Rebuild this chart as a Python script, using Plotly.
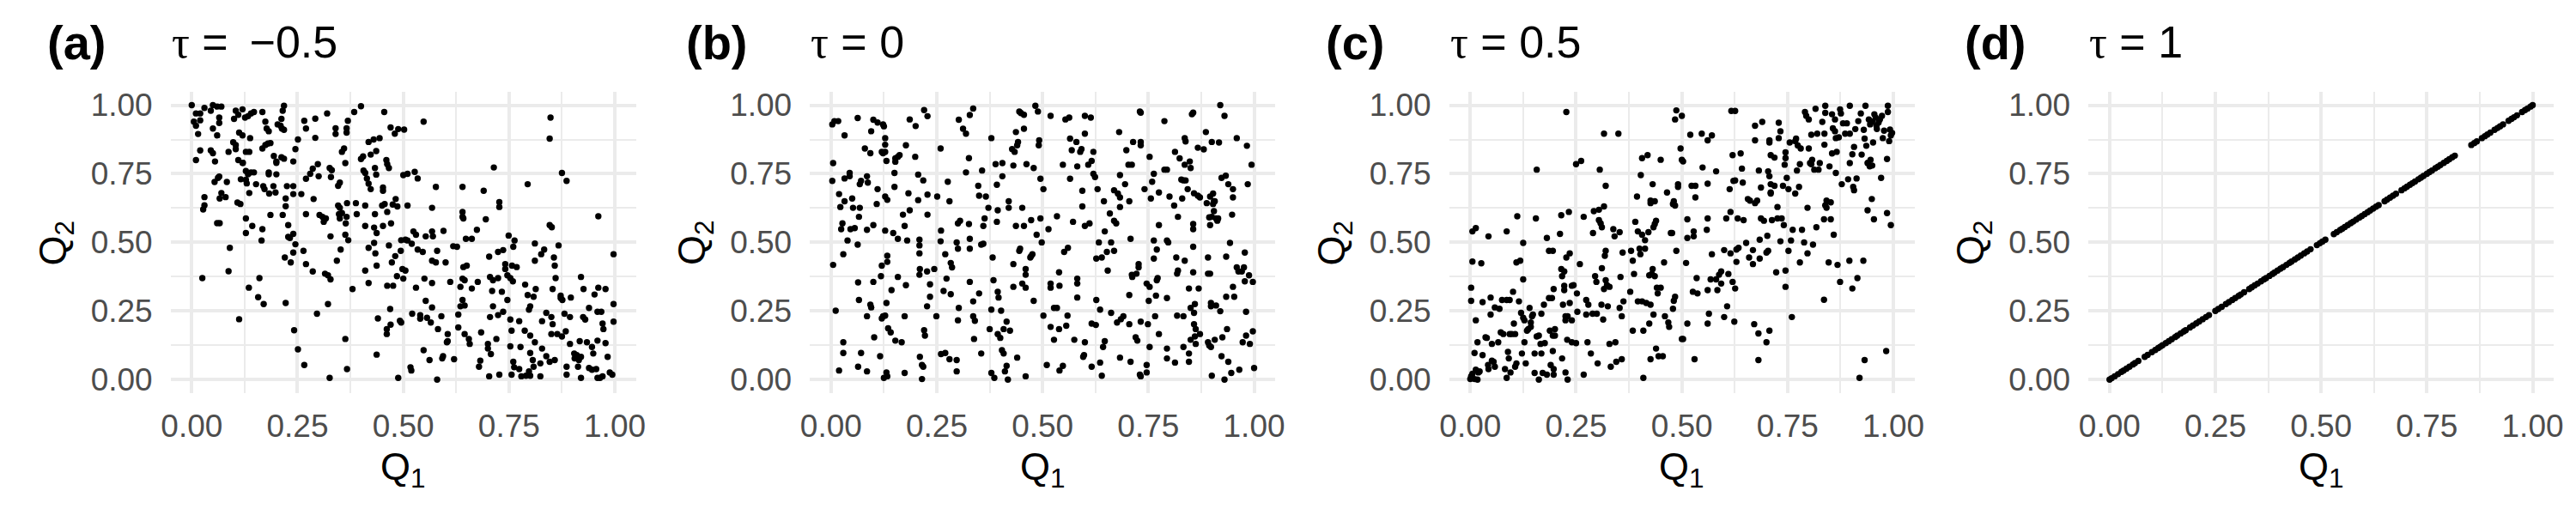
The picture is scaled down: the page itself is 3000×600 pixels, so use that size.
import plotly.graph_objects as go

FONT = "Liberation Sans, Arial, Helvetica, sans-serif"

panel_tags = ["(a)", "(b)", "(c)", "(d)"]
panel_tau = ["\u2009\u22120.5", "0", "0.5", "1"]
tick_vals = [0, 0.25, 0.5, 0.75, 1.0]
tick_text = ["0.00", "0.25", "0.50", "0.75", "1.00"]
minor_vals = [0.125, 0.375, 0.625, 0.875]

# panel (a): tau = -0.5  (Q1, Q2) pairs
a_pts = [
(0.00,1.00),(0.01,0.97),(0.02,0.97),(0.005,0.94),(0.01,0.925),(0.02,0.945),(0.015,0.895),(0.01,0.80),(0.02,0.835),(0.03,0.99),
(0.045,0.98),(0.05,1.0),(0.06,0.995),(0.07,0.995),(0.065,0.955),(0.05,0.915),(0.06,0.89),(0.065,0.935),(0.045,0.835),(0.05,0.825),
(0.055,0.795),(0.065,0.74),(0.062,0.735),(0.054,0.72),(0.07,0.68),(0.066,0.66),(0.08,0.665),(0.083,0.72),(0.03,0.665),(0.03,0.635),
(0.027,0.62),(0.06,0.57),(0.066,0.57),(0.025,0.37),(0.09,0.48),(0.087,0.395),(0.087,0.83),(0.098,0.865),(0.104,0.855),(0.10,0.95),
(0.104,0.98),(0.11,0.965),(0.112,0.90),(0.104,0.84),(0.11,0.80),(0.121,0.79),(0.116,0.73),(0.108,0.645),(0.115,0.64),(0.112,0.22),
(0.12,0.985),(0.12,0.79),(0.12,0.89),
(0.126,0.955),(0.133,0.96),(0.14,0.97),(0.147,0.975),(0.128,0.83),(0.136,0.83),(0.138,0.88),(0.128,0.76),(0.133,0.748),(0.14,0.755),
(0.147,0.755),(0.128,0.728),(0.136,0.68),(0.13,0.715),(0.167,0.975),(0.174,0.94),(0.177,0.915),(0.182,0.905),(0.174,0.855),(0.18,0.86),
(0.186,0.862),(0.167,0.842),(0.182,0.755),(0.194,0.815),(0.2,0.795),(0.2,0.79),(0.203,0.93),(0.21,0.925),(0.212,0.95),(0.215,0.98),
(0.218,0.998),(0.213,0.915),(0.218,0.91),(0.212,0.81),(0.218,0.805),(0.152,0.712),(0.169,0.705),(0.172,0.694),(0.183,0.678),(0.193,0.705),
(0.198,0.682),(0.182,0.748),(0.2,0.748),(0.128,0.587),(0.128,0.534),(0.143,0.56),(0.167,0.548),(0.165,0.507),(0.186,0.6),(0.215,0.60),
(0.222,0.632),(0.222,0.66),(0.225,0.705),(0.24,0.705),(0.24,0.676),(0.24,0.795),(0.245,0.84),(0.228,0.563),(0.228,0.52),(0.232,0.516),
(0.24,0.531),(0.245,0.493),(0.22,0.445),(0.234,0.427),(0.24,0.463),(0.135,0.335),(0.16,0.37),(0.157,0.30),(0.17,0.275),(0.222,0.279),
(0.242,0.18),
(0.251,0.875),(0.266,0.943),(0.27,0.915),(0.292,0.951),(0.292,0.881),(0.32,0.97),(0.34,0.916),(0.34,0.895),(0.366,0.916),(0.366,0.9),
(0.369,0.943),(0.384,0.975),(0.4,0.996),(0.259,0.676),(0.27,0.732),(0.28,0.75),(0.286,0.769),(0.298,0.785),(0.3,0.741),(0.288,0.658),
(0.27,0.603),(0.302,0.6),(0.309,0.593),(0.317,0.587),(0.312,0.575),(0.326,0.771),(0.331,0.763),(0.329,0.738),(0.346,0.706),(0.35,0.718),
(0.363,0.789),(0.355,0.83),(0.36,0.842),(0.346,0.634),(0.35,0.626),(0.355,0.607),(0.348,0.603),(0.367,0.643),(0.366,0.593),(0.364,0.569),
(0.328,0.522),(0.35,0.587),(0.363,0.528),(0.37,0.508),(0.352,0.474),(0.264,0.469),(0.27,0.421),(0.286,0.394),(0.315,0.386),(0.322,0.38),
(0.328,0.365),(0.343,0.433),(0.296,0.24),(0.322,0.275),(0.251,0.11),(0.266,0.053),(0.326,0.006),(0.363,0.148),(0.367,0.038),(0.38,0.33),
(0.39,0.603),(0.388,0.643),(0.4,0.804),(0.405,0.813),(0.418,0.866),(0.423,0.82),(0.43,0.875),(0.436,0.833),(0.444,0.88),(0.455,0.975),
(0.406,0.762),(0.41,0.753),(0.414,0.733),(0.418,0.714),(0.423,0.694),(0.436,0.747),(0.433,0.771),(0.452,0.7),(0.452,0.688),(0.46,0.8),
(0.462,0.785),(0.466,0.771),(0.47,0.919),(0.48,0.896),(0.488,0.913),(0.41,0.634),(0.433,0.603),(0.45,0.634),(0.456,0.64),(0.462,0.611),
(0.475,0.638),(0.486,0.631),(0.482,0.658),(0.41,0.56),(0.418,0.48),(0.431,0.498),(0.431,0.554),(0.437,0.534),(0.452,0.56),(0.471,0.569),
(0.466,0.489),(0.434,0.46),(0.481,0.45),(0.473,0.427),(0.494,0.469),(0.495,0.508),(0.41,0.397),(0.418,0.352),(0.437,0.415),(0.462,0.342),
(0.476,0.342),(0.485,0.377),(0.498,0.403),(0.44,0.223),(0.461,0.184),(0.461,0.166),(0.47,0.2),(0.469,0.257),(0.492,0.214),(0.437,0.091),
(0.488,0.006),
(0.502,0.911),(0.548,0.94),(0.5,0.745),(0.51,0.75),(0.527,0.757),(0.534,0.733),(0.51,0.634),(0.505,0.51),(0.51,0.507),(0.52,0.495),
(0.524,0.54),(0.53,0.528),(0.534,0.474),(0.546,0.465),(0.553,0.522),(0.568,0.54),(0.57,0.522),(0.577,0.702),(0.568,0.626),(0.58,0.469),
(0.568,0.433),(0.577,0.427),(0.595,0.542),(0.6,0.427),(0.618,0.486),(0.611,0.356),(0.55,0.368),(0.568,0.352),(0.553,0.287),(0.53,0.335),
(0.505,0.397),(0.5,0.368),(0.495,0.208),(0.521,0.24),(0.54,0.235),(0.54,0.222),(0.556,0.225),(0.565,0.208),(0.59,0.231),(0.568,0.263),
(0.582,0.184),(0.605,0.166),(0.605,0.14),(0.603,0.136),(0.548,0.107),(0.562,0.071),(0.592,0.077),(0.62,0.074),(0.517,0.045),(0.519,0.033),
(0.58,0.0),(0.594,0.085),
(0.64,0.702),(0.627,0.484),(0.64,0.611),(0.64,0.593),(0.642,0.587),(0.648,0.513),(0.662,0.513),(0.674,0.546),(0.69,0.688),(0.695,0.584),
(0.727,0.647),(0.727,0.629),(0.714,0.773),(0.635,0.338),(0.64,0.368),(0.645,0.362),(0.642,0.41),(0.65,0.415),(0.63,0.19),(0.635,0.267),
(0.64,0.29),(0.645,0.27),(0.63,0.237),(0.645,0.166),(0.655,0.148),(0.657,0.13),(0.662,0.332),(0.676,0.356),(0.684,0.172),(0.682,0.069),
(0.679,0.047),(0.7,0.13),(0.7,0.113),(0.703,0.012),(0.707,0.093),(0.705,0.374),(0.71,0.323),(0.703,0.448),(0.712,0.362),(0.724,0.465),
(0.724,0.37),(0.705,0.228),(0.712,0.267),(0.724,0.235),(0.736,0.247),(0.733,0.32),(0.72,0.148),(0.727,0.018),(0.741,0.421),(0.741,0.403),
(0.746,0.38),(0.736,0.472),(0.749,0.525),(0.746,0.29),
(0.763,0.507),(0.76,0.484),(0.757,0.415),(0.768,0.41),(0.753,0.37),(0.759,0.358),(0.753,0.219),(0.756,0.178),(0.753,0.121),(0.76,0.065),
(0.762,0.045),(0.756,0.018),(0.777,0.119),(0.774,0.038),(0.779,0.012),(0.79,0.014),(0.8,0.014),(0.794,0.712),(0.788,0.346),(0.794,0.308),
(0.8,0.267),(0.797,0.255),(0.774,0.213),(0.787,0.178),(0.8,0.16),(0.8,0.097),(0.806,0.071),(0.808,0.047),(0.797,0.03),(0.811,0.496),
(0.811,0.433),(0.808,0.302),(0.813,0.33),(0.811,0.136),(0.824,0.059),(0.824,0.012),(0.826,0.457),(0.833,0.474),(0.828,0.213),(0.838,0.243),
(0.828,0.113),(0.838,0.085),(0.848,0.955),(0.846,0.878),(0.846,0.563),(0.851,0.555),(0.856,0.445),(0.858,0.415),(0.86,0.37),(0.853,0.33),
(0.85,0.228),(0.853,0.202),(0.85,0.166),(0.858,0.071),(0.846,0.065),(0.867,0.489),(0.872,0.306),(0.872,0.297),(0.864,0.166),(0.875,0.157),
(0.875,0.753),(0.886,0.724),(0.961,0.595),(0.876,0.29),(0.881,0.24),(0.896,0.299),(0.894,0.228),(0.884,0.176),(0.886,0.047),(0.886,0.018),
(0.894,0.13),(0.904,0.095),(0.905,0.077),(0.91,0.089),(0.915,0.071),(0.92,0.083),(0.913,0.047),(0.92,0.006),(0.917,0.14),(0.92,0.374),
(0.925,0.228),(0.93,0.219),(0.926,0.33),(0.934,0.136),(0.939,0.261),(0.946,0.119),(0.939,0.042),(0.946,0.036),(0.952,0.31),(0.949,0.095),
(0.959,0.247),(0.961,0.335),(0.959,0.142),(0.968,0.247),(0.971,0.204),(0.973,0.184),(0.978,0.33),(0.978,0.133),(0.983,0.083),(0.959,0.006),
(0.965,0.006),(0.971,0.012),(0.988,0.026),(0.994,0.018),(0.997,0.457),(0.997,0.275),(0.997,0.211),(0.956,0.038),
]

# panel (b): tau = 0
b_pts = [
(0.003,0.93),(0.008,0.942),(0.017,0.942),(0.005,0.789),(0.003,0.724),(0.005,0.418),(0.011,0.251),(0.019,0.676),(0.022,0.629),(0.024,0.548),
(0.027,0.569),(0.029,0.457),(0.029,0.136),(0.029,0.097),(0.019,0.033),(0.032,0.89),(0.032,0.65),(0.032,0.733),(0.039,0.507),(0.044,0.753),
(0.044,0.741),(0.046,0.548),(0.05,0.66),(0.052,0.626),(0.056,0.552),(0.063,0.953),(0.066,0.593),(0.068,0.626),(0.063,0.492),(0.064,0.354),
(0.066,0.29),(0.068,0.712),(0.071,0.724),(0.071,0.097),(0.064,0.047),(0.08,0.842),(0.085,0.741),(0.087,0.718),(0.085,0.546),(0.085,0.231),
(0.085,0.03),(0.093,0.825),(0.095,0.905),(0.1,0.947),(0.11,0.937),(0.1,0.563),(0.095,0.263),(0.093,0.273),(0.1,0.356),(0.102,0.154),
(0.11,0.694),(0.108,0.64),(0.116,0.085),(0.118,0.377),(0.12,0.415),(0.123,0.825),(0.12,0.83),(0.123,0.93),(0.12,0.223),(0.123,0.231),
(0.125,0.006),
(0.125,0.923),(0.128,0.83),(0.128,0.856),(0.128,0.88),(0.131,0.797),(0.128,0.667),(0.133,0.655),(0.128,0.543),(0.131,0.279),(0.128,0.233),
(0.133,0.451),(0.133,0.429),(0.135,0.187),(0.141,0.172),(0.131,0.026),(0.133,0.012),(0.143,0.326),(0.147,0.534),(0.15,0.702),(0.15,0.753),
(0.152,0.794),(0.152,0.806),(0.158,0.812),(0.162,0.818),(0.158,0.513),(0.158,0.374),(0.152,0.142),(0.167,0.136),(0.17,0.601),(0.174,0.56),
(0.174,0.231),(0.174,0.024),(0.177,0.854),(0.177,0.344),(0.18,0.507),(0.183,0.679),(0.186,0.617),(0.186,0.948),(0.2,0.924),(0.199,0.812),
(0.206,0.747),(0.206,0.654),(0.209,0.51),(0.209,0.489),(0.209,0.46),(0.21,0.403),(0.209,0.382),(0.21,0.083),(0.215,0.002),(0.218,0.726),
(0.22,0.982),(0.228,0.96),(0.22,0.18),(0.222,0.16),(0.215,0.053),(0.218,0.047),(0.227,0.394),(0.227,0.267),(0.228,0.601),(0.228,0.674),
(0.234,0.302),(0.234,0.347),(0.244,0.403),
(0.249,0.231),(0.251,0.667),(0.259,0.842),(0.26,0.543),(0.259,0.504),(0.26,0.093),(0.266,0.323),(0.27,0.457),(0.27,0.097),(0.273,0.368),
(0.276,0.721),(0.28,0.65),(0.28,0.074),(0.283,0.425),(0.286,0.409),(0.283,0.311),(0.297,0.5),(0.3,0.477),(0.3,0.569),(0.305,0.579),
(0.302,0.947),(0.302,0.261),(0.3,0.216),(0.297,0.071),(0.297,0.03),(0.312,0.914),(0.319,0.896),(0.319,0.755),(0.326,0.807),(0.326,0.567),
(0.328,0.513),(0.328,0.477),(0.328,0.356),(0.328,0.964),(0.336,0.988),(0.336,0.285),(0.336,0.231),(0.34,0.214),(0.338,0.148),(0.348,0.706),
(0.35,0.314),(0.35,0.67),(0.355,0.492),(0.357,0.762),(0.36,0.56),(0.36,0.495),(0.363,0.587),(0.355,0.095),(0.366,0.667),(0.372,0.626),
(0.379,0.88),(0.382,0.445),(0.384,0.362),(0.379,0.255),(0.375,0.184),(0.379,0.024),(0.386,0.006),(0.389,0.785),(0.392,0.71),(0.392,0.575),
(0.394,0.617),(0.394,0.32),(0.396,0.299),(0.394,0.166),(0.4,0.152),(0.402,0.251),(0.404,0.107),(0.405,0.789),(0.405,0.741),(0.408,0.095),
(0.408,0.184),(0.411,0.03),(0.415,0.211),(0.415,0.05),(0.418,0.0),(0.42,0.65),(0.42,0.626),(0.423,0.178),(0.428,0.84),(0.431,0.78),
(0.431,0.421),(0.431,0.338),(0.434,0.83),(0.437,0.56),(0.44,0.08),(0.437,0.902),(0.44,0.854),(0.442,0.866),(0.445,0.977),(0.445,0.469),
(0.447,0.477),(0.449,0.971),(0.452,0.626),(0.452,0.35),(0.456,0.965),(0.456,0.914),(0.456,0.56),(0.46,0.403),(0.46,0.382),(0.46,0.335),
(0.46,0.012),(0.462,0.785),(0.471,0.445),(0.473,0.45),(0.473,0.581),(0.476,0.457),(0.479,0.771),(0.479,0.287),(0.483,0.998),(0.486,0.528),
(0.489,0.977),(0.491,0.854),(0.492,0.872),(0.495,0.732),(0.495,0.587),(0.498,0.5),
(0.502,0.694),(0.502,0.233),(0.51,0.053),(0.514,0.548),(0.519,0.961),(0.519,0.35),(0.519,0.335),(0.519,0.192),(0.527,0.145),(0.527,0.261),
(0.534,0.261),(0.534,0.595),(0.539,0.391),(0.54,0.342),(0.539,0.184),(0.54,0.033),(0.548,0.783),(0.548,0.05),(0.551,0.465),(0.554,0.948),
(0.556,0.196),(0.559,0.233),(0.56,0.48),(0.563,0.955),(0.565,0.878),(0.565,0.732),(0.569,0.836),(0.572,0.575),(0.575,0.145),(0.58,0.866),
(0.582,0.299),(0.582,0.368),(0.582,0.35),(0.582,0.777),(0.589,0.83),(0.592,0.84),(0.594,0.688),(0.594,0.631),(0.596,0.083),(0.598,0.089),
(0.6,0.961),(0.6,0.896),(0.6,0.56),(0.6,0.136),(0.608,0.783),(0.611,0.569),(0.614,0.955),(0.616,0.797),(0.616,0.047),(0.616,0.204),
(0.62,0.83),(0.62,0.75),(0.624,0.738),(0.626,0.199),
(0.627,0.441),(0.627,0.29),(0.63,0.694),(0.633,0.5),(0.636,0.255),(0.636,0.062),(0.64,0.014),(0.64,0.445),(0.643,0.119),(0.645,0.65),
(0.647,0.54),(0.647,0.14),(0.652,0.465),(0.654,0.397),(0.659,0.605),(0.662,0.5),(0.662,0.243),(0.669,0.579),(0.669,0.469),(0.669,0.69),
(0.674,0.569),(0.676,0.208),(0.678,0.678),(0.681,0.902),(0.683,0.664),(0.683,0.745),(0.683,0.629),(0.683,0.08),(0.685,0.22),(0.691,0.231),
(0.695,0.712),(0.698,0.836),(0.703,0.783),(0.705,0.65),(0.705,0.308),(0.705,0.202),(0.708,0.065),(0.708,0.513),(0.711,0.783),(0.711,0.382),
(0.712,0.374),(0.714,0.866),(0.722,0.386),(0.72,0.154),(0.724,0.142),(0.727,0.421),(0.727,0.409),(0.73,0.977),(0.732,0.973),(0.732,0.866),
(0.732,0.854),(0.732,0.211),(0.73,0.018),(0.732,0.012),(0.741,0.694),(0.746,0.35),(0.746,0.053),(0.746,0.026),(0.749,0.202),(0.751,0.287),
(0.753,0.812),(0.753,0.338),(0.753,0.119),(0.756,0.66),(0.759,0.721),(0.763,0.75),(0.763,0.507),(0.763,0.441),(0.766,0.231),(0.768,0.306),
(0.77,0.474),(0.77,0.362),(0.772,0.37),(0.775,0.682),(0.775,0.563),(0.775,0.166),(0.788,0.942),(0.788,0.765),(0.794,0.765),(0.794,0.507),
(0.797,0.5),(0.794,0.297),(0.794,0.113),(0.794,0.077),(0.8,0.667),(0.811,0.634),(0.813,0.83),(0.813,0.062),(0.816,0.445),(0.818,0.386),
(0.82,0.397),(0.818,0.233),(0.82,0.593),(0.824,0.806),(0.828,0.729),(0.83,0.66),(0.833,0.726),(0.833,0.231),(0.833,0.119),(0.836,0.88),
(0.836,0.783),(0.836,0.433),(0.838,0.868),(0.838,0.726),(0.843,0.694),(0.846,0.332),(0.846,0.095),(0.846,0.065),(0.848,0.795),(0.85,0.771),
(0.85,0.145),(0.85,0.261),(0.853,0.967),(0.856,0.973),(0.856,0.567),(0.856,0.548),(0.856,0.484),(0.856,0.391),(0.858,0.679),(0.858,0.243),
(0.858,0.202),(0.86,0.275),(0.86,0.157),(0.862,0.184),(0.862,0.13),(0.867,0.845),(0.867,0.67),(0.869,0.332),(0.872,0.664),(0.872,0.166),
(0.881,0.839),(0.886,0.902),(0.888,0.643),(0.891,0.386),(0.891,0.136),(0.891,0.445),(0.894,0.591),(0.894,0.124),(0.896,0.563),(0.896,0.667),
(0.896,0.386),(0.898,0.267),(0.898,0.279),(0.898,0.119),(0.9,0.593),(0.9,0.014),(0.9,0.866),(0.903,0.64),(0.903,0.678),(0.905,0.65),
(0.905,0.614),(0.907,0.65),(0.907,0.145),(0.91,0.587),(0.91,0.27),(0.913,0.579),(0.913,0.585),(0.915,0.587),(0.917,0.864),(0.92,1.0),
(0.92,0.249),(0.923,0.085),(0.923,0.735),(0.925,0.154),(0.93,0.961),(0.93,0.0),(0.933,0.743),(0.934,0.448),(0.934,0.302),(0.936,0.184),
(0.939,0.712),(0.939,0.065),(0.943,0.498),(0.946,0.024),(0.948,0.601),(0.95,0.694),(0.95,0.664),(0.95,0.338),(0.953,0.302),(0.959,0.88),
(0.959,0.409),(0.963,0.394),(0.965,0.036),(0.971,0.394),(0.973,0.136),(0.976,0.409),(0.978,0.463),(0.978,0.358),(0.981,0.247),(0.981,0.16),
(0.983,0.852),(0.985,0.712),(0.988,0.38),(0.99,0.13),(0.994,0.783),(0.997,0.356),(0.997,0.176),(1.0,0.042),
]

# panel (c): tau = 0.5
c_pts = [
(0.0,0.002),(0.002,0.012),(0.005,0.021),(0.01,0.002),(0.013,0.036),(0.017,0.0),(0.019,0.026),(0.022,0.03),(0.002,0.335),(0.002,0.287),
(0.005,0.43),(0.005,0.54),(0.013,0.552),(0.013,0.216),(0.01,0.097),(0.017,0.136),(0.026,0.424),(0.029,0.282),(0.029,0.089),(0.036,0.154),
(0.039,0.152),(0.042,0.053),(0.043,0.522),(0.043,0.038),(0.048,0.299),(0.048,0.237),(0.051,0.13),(0.051,0.069),(0.055,0.065),(0.058,0.047),
(0.058,0.263),(0.066,0.136),(0.069,0.258),(0.072,0.172),(0.075,0.29),(0.078,0.166),(0.082,0.038),(0.086,0.54),(0.086,0.29),(0.089,0.101),
(0.086,0.006),(0.091,0.077),(0.093,0.166),(0.093,0.29),(0.095,0.026),(0.098,0.166),(0.101,0.32),(0.103,0.204),(0.106,0.166),(0.106,0.047),
(0.109,0.427),(0.111,0.595),(0.109,0.059),(0.115,0.285),(0.118,0.433),(0.12,0.243),(0.122,0.095),
(0.125,0.498),(0.125,0.365),(0.125,0.225),(0.128,0.216),(0.128,0.136),(0.131,0.059),(0.134,0.178),(0.137,0.184),(0.14,0.261),(0.143,0.208),
(0.143,0.192),(0.146,0.231),(0.148,0.237),(0.152,0.095),(0.152,0.024),(0.155,0.587),(0.157,0.765),(0.157,0.157),(0.162,0.0),(0.162,0.16),
(0.166,0.13),(0.168,0.095),(0.168,0.24),(0.171,0.024),(0.174,0.273),(0.176,0.133),(0.181,0.516),(0.181,0.018),(0.186,0.297),(0.186,0.469),
(0.188,0.178),(0.19,0.053),(0.193,0.297),(0.195,0.469),(0.195,0.16),(0.195,0.104),(0.197,0.038),(0.197,0.018),(0.2,0.184),(0.197,0.33),
(0.2,0.16),(0.212,0.531),(0.215,0.599),(0.215,0.403),(0.217,0.377),(0.219,0.273),(0.217,0.077),(0.222,0.394),(0.222,0.342),(0.222,0.326),
(0.225,0.231),(0.225,0.216),(0.225,0.026),(0.227,0.975),(0.227,0.445),(0.229,0.145),(0.23,0.231),(0.23,0.0),(0.233,0.611),(0.235,0.46),
(0.235,0.279),(0.24,0.216),(0.24,0.342),(0.24,0.136),(0.244,0.344),
(0.25,0.785),(0.252,0.314),(0.25,0.133),(0.253,0.247),(0.262,0.797),(0.259,0.421),(0.268,0.593),(0.268,0.018),(0.274,0.29),(0.277,0.136),
(0.279,0.273),(0.274,0.237),(0.285,0.095),(0.289,0.24),(0.29,0.534),(0.292,0.614),(0.295,0.377),(0.298,0.356),(0.299,0.24),(0.301,0.059),
(0.304,0.619),(0.304,0.581),(0.306,0.765),(0.308,0.569),(0.311,0.555),(0.31,0.273),(0.311,0.406),(0.314,0.219),(0.316,0.33),(0.316,0.631),
(0.316,0.896),(0.318,0.451),(0.32,0.469),(0.32,0.706),(0.32,0.362),(0.323,0.344),(0.325,0.267),(0.329,0.13),(0.329,0.338),(0.332,0.047),
(0.338,0.548),(0.341,0.522),(0.343,0.136),(0.345,0.065),(0.35,0.896),(0.353,0.537),(0.353,0.261),(0.355,0.374),(0.358,0.074),(0.358,0.231),
(0.36,0.463),(0.362,0.285),
(0.378,0.32),(0.38,0.469),(0.384,0.433),(0.384,0.178),(0.387,0.385),(0.39,0.575),(0.394,0.667),(0.396,0.54),(0.396,0.285),(0.4,0.477),
(0.402,0.457),(0.403,0.745),(0.406,0.807),(0.406,0.528),(0.406,0.285),(0.409,0.178),(0.409,0.006),(0.413,0.477),(0.413,0.508),(0.416,0.279),
(0.419,0.818),(0.421,0.537),(0.423,0.204),(0.423,0.38),(0.426,0.652),(0.426,0.643),(0.426,0.273),(0.426,0.074),(0.429,0.385),(0.431,0.712),
(0.431,0.403),(0.433,0.555),(0.433,0.237),(0.436,0.65),(0.436,0.377),(0.436,0.567),(0.439,0.579),(0.439,0.113),(0.441,0.335),(0.443,0.314),
(0.445,0.085),(0.45,0.801),(0.45,0.335),(0.455,0.085),(0.458,0.427),(0.46,0.231),(0.465,0.682),(0.468,0.208),(0.47,0.192),(0.474,0.534),
(0.477,0.534),(0.479,0.64),(0.481,0.65),(0.484,0.634),(0.479,0.258),(0.481,0.287),(0.484,0.302),(0.484,0.948),(0.487,0.981),(0.487,0.469),
(0.491,0.702),(0.491,0.712),(0.497,0.842),(0.5,0.961),(0.5,0.801),(0.5,0.148),
(0.503,0.148),(0.503,0.795),(0.513,0.584),(0.513,0.516),(0.51,0.425),(0.513,0.204),(0.52,0.892),(0.523,0.706),(0.526,0.32),(0.528,0.522),
(0.528,0.54),(0.53,0.074),(0.532,0.664),(0.532,0.706),(0.535,0.37),(0.537,0.314),(0.547,0.896),(0.549,0.773),(0.561,0.587),(0.559,0.546),
(0.561,0.872),(0.561,0.714),(0.561,0.326),(0.561,0.204),(0.564,0.24),(0.568,0.365),(0.571,0.89),(0.571,0.457),(0.581,0.759),(0.581,0.365),
(0.584,0.326),(0.588,0.382),(0.593,0.394),(0.593,0.35),(0.6,0.228),(0.6,0.472),(0.605,0.587),(0.607,0.267),(0.61,0.385),(0.613,0.694),
(0.615,0.611),(0.615,0.46),(0.617,0.979),(0.62,0.818),(0.62,0.356),(0.622,0.724),(0.624,0.211),(0.626,0.979),
(0.626,0.726),(0.626,0.332),(0.629,0.474),(0.629,0.429),(0.632,0.587),(0.634,0.48),(0.639,0.824),(0.642,0.769),(0.644,0.718),(0.646,0.581),
(0.652,0.498),(0.656,0.658),(0.659,0.445),(0.661,0.652),(0.668,0.472),(0.668,0.421),(0.671,0.202),(0.673,0.643),(0.673,0.872),(0.673,0.925),
(0.678,0.652),(0.681,0.071),(0.681,0.168),(0.682,0.762),(0.684,0.51),(0.684,0.441),(0.687,0.7),(0.687,0.587),(0.69,0.939),(0.694,0.579),
(0.7,0.463),(0.7,0.136),(0.702,0.524),(0.704,0.759),(0.704,0.469),(0.707,0.872),(0.707,0.864),(0.707,0.178),(0.707,0.741),(0.71,0.712),
(0.71,0.682),(0.71,0.678),(0.71,0.818),(0.713,0.581),(0.719,0.706),(0.719,0.809),(0.723,0.391),(0.726,0.629),(0.726,0.587),(0.729,0.936),
(0.729,0.88),(0.733,0.905),(0.733,0.504),(0.736,0.587),(0.739,0.706),(0.741,0.563),(0.743,0.783),(0.745,0.397),(0.745,0.338),(0.745,0.828),
(0.745,0.807),(0.748,0.735),(0.752,0.469),(0.752,0.694),
(0.755,0.864),(0.758,0.507),(0.76,0.228),(0.762,0.546),(0.768,0.869),(0.768,0.678),(0.77,0.878),(0.772,0.762),(0.774,0.853),(0.777,0.702),
(0.779,0.427),(0.779,0.785),(0.781,0.842),(0.784,0.546),(0.789,0.5),(0.791,0.975),(0.794,0.961),(0.797,0.46),(0.797,0.626),(0.8,0.948),
(0.8,0.842),(0.803,0.789),(0.806,0.785),(0.806,0.892),(0.808,0.801),(0.81,0.492),(0.813,0.765),(0.816,0.987),(0.818,0.555),(0.82,0.896),
(0.823,0.765),(0.826,0.789),(0.832,0.939),(0.836,0.291),(0.836,0.584),(0.837,0.856),(0.837,0.896),(0.839,0.998),(0.839,0.972),(0.839,0.635),
(0.842,0.652),(0.842,0.626),(0.847,0.427),(0.849,0.777),(0.852,0.646),(0.852,0.584),(0.855,0.967),(0.855,0.824),(0.857,0.916),(0.859,0.528),
(0.862,0.905),(0.862,0.948),(0.864,0.88),(0.864,0.753),(0.866,0.83),(0.868,0.418),(0.871,0.883),(0.874,0.985),(0.874,0.356),
(0.876,0.97),(0.878,0.712),(0.881,0.934),(0.886,0.896),(0.89,0.934),(0.893,0.73),(0.896,0.433),(0.897,0.789),(0.897,0.998),(0.897,0.896),
(0.903,0.821),(0.903,0.332),(0.905,0.702),(0.907,0.69),(0.907,0.848),(0.91,0.913),(0.913,0.733),(0.915,0.37),(0.917,0.942),(0.92,0.006),
(0.923,0.97),(0.929,0.433),(0.932,0.071),(0.932,0.878),(0.934,0.998),(0.936,0.852),(0.939,0.789),(0.939,0.617),(0.942,0.948),(0.944,0.777),
(0.946,0.801),(0.949,0.658),(0.952,0.864),(0.954,0.584),(0.955,0.967),(0.958,0.955),(0.961,0.913),(0.965,0.937),(0.968,0.948),(0.971,0.735),
(0.973,0.961),(0.975,0.88),(0.978,0.907),(0.983,0.104),(0.985,0.804),(0.985,0.607),(0.987,0.998),(0.987,0.975),(0.99,0.869),(0.992,0.911),
(0.994,0.89),(0.994,0.563),(0.997,0.899),(0.95,0.94),(0.945,0.93),(0.96,0.925),(0.93,0.91),(0.925,0.82),(0.94,0.79),(0.95,0.78),
]

# panel (d): tau = 1, Q2 equals Q1
d_q = [
0.0,0.005,0.012,0.02,0.028,0.033,0.04,0.047,0.055,0.06,0.068,0.083,0.09,0.1,0.108,0.115,0.12,0.125,0.133,0.14,
0.147,0.155,0.16,0.168,0.175,0.18,0.19,0.197,0.205,0.212,0.22,0.228,0.235,0.25,0.257,0.265,0.275,0.282,0.29,0.297,
0.305,0.31,0.318,0.33,0.336,0.343,0.35,0.358,0.365,0.37,0.378,0.385,0.39,0.397,0.404,0.41,0.418,0.425,0.43,0.438,
0.445,0.452,0.46,0.467,0.475,0.49,0.497,0.503,0.51,0.53,0.537,0.545,0.55,0.556,0.563,0.57,0.576,0.583,0.59,0.596,
0.603,0.61,0.616,0.623,0.63,0.636,0.65,0.656,0.663,0.67,0.677,0.69,0.697,0.703,0.71,0.716,0.722,0.73,0.736,0.742,
0.75,0.756,0.762,0.77,0.776,0.782,0.79,0.797,0.803,0.81,0.816,0.855,0.862,0.868,0.88,0.887,0.893,0.9,0.91,0.917,
0.923,0.93,0.943,0.95,0.956,0.963,0.975,0.982,0.988,0.995,1.0,
]

W, H = 3000, 600
PANEL_W = 750
PX_L, PX_R = 181, 727      # plot area left/right inside a panel (px)
PY_T, PY_B = 96, 453       # plot area top/bottom (px)

fig = go.Figure()
series = [a_pts, b_pts, c_pts, list(zip(d_q, d_q))]
annotations = []
for i, pts in enumerate(series):
    sfx = "" if i == 0 else str(i + 1)
    fig.add_trace(go.Scatter(
        x=[p[0] for p in pts], y=[p[1] for p in pts], mode="markers",
        marker=dict(size=7.4, color="black", line=dict(width=0)),
        xaxis="x" + sfx, yaxis="y" + sfx, showlegend=False, hoverinfo="skip"))
    off = PANEL_W * i
    common = dict(
        range=[-0.05, 1.05], tickmode="array", tickvals=tick_vals, ticktext=tick_text,
        showgrid=True, gridcolor="#EBEBEB", gridwidth=3.5,
        zeroline=False, showline=False, ticks="",
        tickfont=dict(family=FONT, size=37, color="#4D4D4D"),
        minor=dict(tickmode="array", tickvals=minor_vals, showgrid=True,
                   gridcolor="#EBEBEB", gridwidth=1.8, ticks=""),
        fixedrange=True,
    )
    fig.layout["xaxis" + sfx] = dict(
        domain=[(PX_L + off) / W, (PX_R + off) / W], anchor="y" + sfx,
        ticklabelstandoff=13, **common)
    fig.layout["yaxis" + sfx] = dict(
        domain=[(H - PY_B) / H, (H - PY_T) / H], anchor="x" + sfx,
        ticklabelstandoff=20, **common)
    # tag
    annotations.append(dict(
        text="<b>" + panel_tags[i] + "</b>", x=(34 + off) / W, y=(H - 38) / H,
        xref="paper", yref="paper", xanchor="left", yanchor="middle",
        showarrow=False, font=dict(family=FONT, size=56, color="black")))
    # title
    annotations.append(dict(
        text='<span style="font-family:Liberation Serif">\u03c4</span> = ' + panel_tau[i],
        x=(180 + off) / W, y=(H - 38) / H,
        xref="paper", yref="paper", xanchor="left", yanchor="middle",
        showarrow=False, font=dict(family=FONT, size=52, color="black")))
    # x axis title
    annotations.append(dict(
        text="Q<sub>1</sub>", x=(454 + off) / W, y=(H - 543) / H,
        xref="paper", yref="paper", xanchor="center", yanchor="middle",
        showarrow=False, font=dict(family=FONT, size=45, color="black")))
    # y axis title
    annotations.append(dict(
        text="Q<sub>2</sub>", x=(46 + off) / W, y=(H - 275) / H, textangle=-90,
        xref="paper", yref="paper", xanchor="center", yanchor="middle",
        showarrow=False, font=dict(family=FONT, size=45, color="black")))

fig.update_layout(
    width=W, height=H, margin=dict(l=0, r=0, t=0, b=0),
    paper_bgcolor="white", plot_bgcolor="white",
    annotations=annotations, font=dict(family=FONT),
)
fig.write_html("out.html")
